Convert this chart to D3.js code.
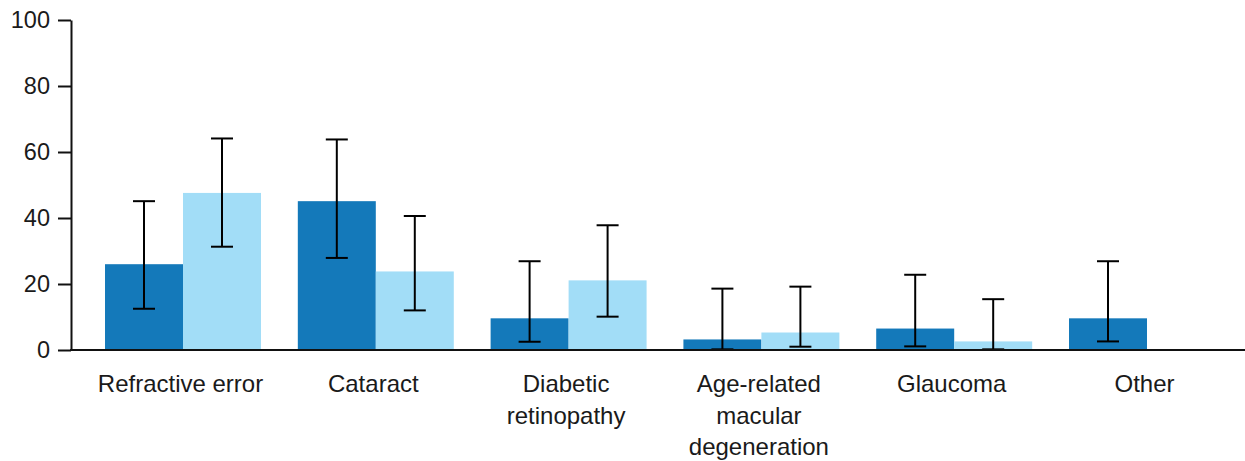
<!DOCTYPE html>
<html>
<head>
<meta charset="utf-8">
<script src="https://cdn.jsdelivr.net/npm/d3@7"></script>
<style>
  html, body { margin: 0; padding: 0; background: #fff; }
  svg { display: block; font-family: "Liberation Sans", Arial, sans-serif; }
</style>
</head>
<body>
<svg id="chart" width="1245" height="461"></svg>
<script>
// ---- Data ----
const categories = [
  ["Refractive error"],
  ["Cataract"],
  ["Diabetic", "retinopathy"],
  ["Age-related", "macular", "degeneration"],
  ["Glaucoma"],
  ["Other"]
];
const seriesNames = ["Series A", "Series B"];
const valuesA = [26, 45.1, 9.6, 3.2, 6.5, 9.6];
const lowA    = [12.5, 27.9, 2.5, 0.2, 1.1, 2.6];
const highA   = [45.1, 63.8, 26.9, 18.6, 22.8, 26.9];
const valuesB = [47.6, 23.8, 21.1, 5.3, 2.6, null];
const lowB    = [31.3, 12.0, 10.1, 1.0, 0.2, null];
const highB   = [64.1, 40.6, 37.8, 19.2, 15.4, null];
const yTicks  = [0, 20, 40, 60, 80, 100];

// ---- Layout ----
const W = 1245, H = 461;
const axisX = 71, yTop = 20, yBottom = 350;
const colors = ["#1479ba", "#a2ddf7"];

const svg = d3.select("#chart");
const catKeys = categories.map(c => c.join(" "));

const y = d3.scaleLinear().domain([0, 100]).range([yBottom, yTop]);
const x0 = d3.scaleBand().domain(catKeys).range([86.6, 1243.4])
  .paddingInner(0.191).paddingOuter(0.0955);
const x1 = d3.scaleBand().domain(seriesNames).range([0, x0.bandwidth()]);

const rows = [];
catKeys.forEach((k, i) => {
  [[valuesA, lowA, highA], [valuesB, lowB, highB]].forEach((s, j) => {
    if (s[0][i] != null) rows.push({cat: k, series: seriesNames[j], v: s[0][i], lo: s[1][i], hi: s[2][i], j});
  });
});

// bars
svg.append("g").selectAll("rect").data(rows).join("rect")
  .attr("x", d => x0(d.cat) + x1(d.series))
  .attr("y", d => y(d.v))
  .attr("width", x1.bandwidth())
  .attr("height", d => y(0) - y(d.v))
  .attr("fill", d => colors[d.j]);

// error bars
const eb = svg.append("g").attr("stroke", "#000").attr("stroke-width", 2);
rows.forEach(d => {
  const cx = x0(d.cat) + x1(d.series) + x1.bandwidth() / 2;
  eb.append("line").attr("x1", cx).attr("x2", cx).attr("y1", y(d.hi)).attr("y2", y(d.lo));
  eb.append("line").attr("x1", cx - 11).attr("x2", cx + 11).attr("y1", y(d.hi)).attr("y2", y(d.hi));
  eb.append("line").attr("x1", cx - 11).attr("x2", cx + 11).attr("y1", y(d.lo)).attr("y2", y(d.lo));
});

// y axis
const yAxis = d3.axisLeft(y).tickValues(yTicks).tickSize(13).tickPadding(8).tickSizeOuter(0);
const gy = svg.append("g").attr("transform", `translate(${axisX},0)`).call(yAxis);
gy.select(".domain").attr("stroke", "#111").attr("stroke-width", 2);
gy.selectAll(".tick line").attr("stroke", "#111").attr("stroke-width", 2);
gy.selectAll(".tick text").attr("font-size", 23.5).attr("fill", "#1a1a1a")
  .attr("font-family", "Liberation Sans, Arial, sans-serif");

// x axis line
svg.append("line").attr("x1", axisX - 1).attr("x2", W).attr("y1", yBottom).attr("y2", yBottom)
  .attr("stroke", "#111").attr("stroke-width", 2);

// category labels
const lbl = svg.append("g").attr("font-size", 24).attr("fill", "#1a1a1a").attr("text-anchor", "middle");
categories.forEach((lines, i) => {
  const cx = x0(catKeys[i]) + x0.bandwidth() / 2 - 2.5;
  const t = lbl.append("text").attr("x", cx).attr("y", 392);
  lines.forEach((ln, k) => {
    t.append("tspan").attr("x", cx).attr("dy", k === 0 ? 0 : 31.5).text(ln);
  });
});
</script>
</body>
</html>
